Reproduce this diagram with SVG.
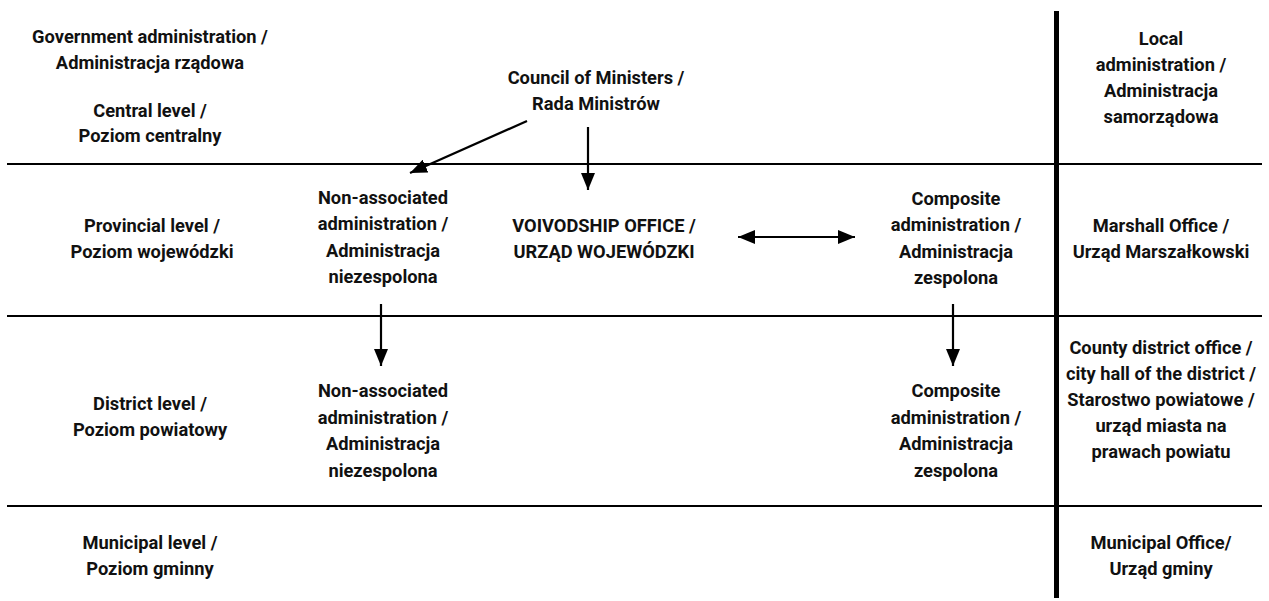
<svg xmlns="http://www.w3.org/2000/svg" width="1269" height="601" viewBox="0 0 1269 601">
<style>
text{font-family:Roboto,"Liberation Sans",sans-serif;font-weight:700;font-size:18.3px;fill:#111;text-anchor:middle}
.rule{stroke:#000;stroke-width:2;fill:none}
.conn{stroke:#000;stroke-width:2.2;fill:none}
</style>
<defs>
<marker id="ah" markerUnits="userSpaceOnUse" markerWidth="18" markerHeight="14" refX="17" refY="7" orient="auto-start-reverse">
<path d="M0,0 L17,7 L0,14 z" fill="#000"/>
</marker>
</defs>
<rect width="1269" height="601" fill="#fff"/>
<g id="grid">
<line class="rule" x1="7" y1="164" x2="1262" y2="164"/>
<line class="rule" x1="7" y1="316" x2="1262" y2="316"/>
<line class="rule" x1="7" y1="506" x2="1262" y2="506"/>
<line x1="1056.5" y1="11" x2="1056.5" y2="598" stroke="#000" stroke-width="5"/>
</g>
<g id="gov-admin"><text x="150" y="43">Government administration /</text><text x="150" y="69">Administracja rządowa</text></g>
<g id="central-level"><text x="150" y="117">Central level /</text><text x="150" y="142">Poziom centralny</text></g>
<g id="provincial-level"><text x="152" y="232">Provincial level /</text><text x="152" y="258">Poziom wojewódzki</text></g>
<g id="district-level"><text x="150" y="410">District level /</text><text x="150" y="436">Poziom powiatowy</text></g>
<g id="municipal-level"><text x="150" y="549">Municipal level /</text><text x="150" y="575">Poziom gminny</text></g>
<g id="council"><text x="596" y="84">Council of Ministers /</text><text x="596" y="110">Rada Ministrów</text></g>
<g id="nonassoc-prov"><text x="383" y="204">Non-associated</text><text x="383" y="230">administration /</text><text x="383" y="257">Administracja</text><text x="383" y="283">niezespolona</text></g>
<g id="voivodship"><text x="604" y="232">VOIVODSHIP OFFICE /</text><text x="604" y="258">URZĄD WOJEWÓDZKI</text></g>
<g id="composite-prov"><text x="956" y="205">Composite</text><text x="956" y="231">administration /</text><text x="956" y="258">Administracja</text><text x="956" y="284">zespolona</text></g>
<g id="local-admin"><text x="1161" y="45">Local</text><text x="1161" y="71">administration /</text><text x="1161" y="97">Administracja</text><text x="1161" y="123">samorządowa</text></g>
<g id="marshall"><text x="1161" y="232">Marshall Office /</text><text x="1161" y="258">Urząd Marszałkowski</text></g>
<g id="nonassoc-dist"><text x="383" y="397">Non-associated</text><text x="383" y="424">administration /</text><text x="383" y="450">Administracja</text><text x="383" y="477">niezespolona</text></g>
<g id="composite-dist"><text x="956" y="397">Composite</text><text x="956" y="424">administration /</text><text x="956" y="450">Administracja</text><text x="956" y="477">zespolona</text></g>
<g id="county"><text x="1161" y="354">County district office /</text><text x="1161" y="380">city hall of the district /</text><text x="1161" y="406">Starostwo powiatowe /</text><text x="1161" y="432">urząd miasta na</text><text x="1161" y="458">prawach powiatu</text></g>
<g id="municipal-office"><text x="1161" y="549">Municipal Office/</text><text x="1161" y="575">Urząd gminy</text></g>
<g id="connectors">
<line class="conn" x1="527" y1="121" x2="410" y2="173" marker-end="url(#ah)"/>
<line class="conn" x1="588" y1="127" x2="588" y2="190" marker-end="url(#ah)"/>
<line class="conn" x1="738" y1="237" x2="855" y2="237" marker-start="url(#ah)" marker-end="url(#ah)"/>
<line class="conn" x1="381" y1="304" x2="381" y2="366" marker-end="url(#ah)"/>
<line class="conn" x1="953" y1="304" x2="953" y2="366" marker-end="url(#ah)"/>
</g>
</svg>
